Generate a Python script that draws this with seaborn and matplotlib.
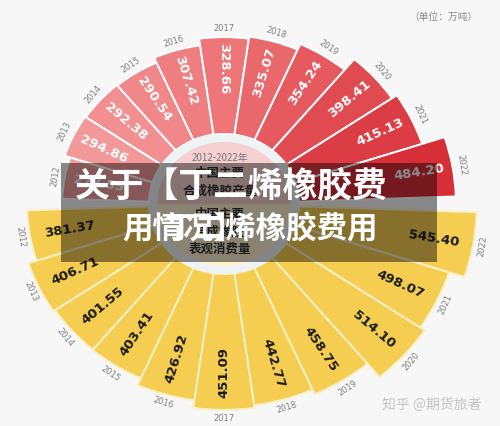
import numpy as np
import matplotlib
matplotlib.use("Agg")
import matplotlib.pyplot as plt
from matplotlib.patches import Rectangle
import seaborn as sns

# data (unit: 万吨)
years = ["2012", "2013", "2014", "2015", "2016", "2017", "2018", "2019", "2020", "2021", "2022"]
production = [278.55, 294.86, 292.38, 290.54, 307.42, 328.66, 335.07, 354.24, 398.41, 415.13, 484.20]
consumption = [381.37, 406.71, 401.55, 403.41, 426.92, 451.09, 442.77, 458.75, 514.10, 498.07, 545.40]

title_line1 = "关于【丁二烯橡胶费"
title_line2a = "用情况】"
title_line2b = "丁二烯橡胶费用"
unit_text = "（单位：万吨）"
center_top = ["2012-2022年", "中国主要", "合成橡胶产量"]
center_bottom = ["中国主要", "合成橡胶", "表观消费量"]
watermark = "知乎 @期货旅者"

sns.set_theme(style="white")
cjk = ["Noto Sans CJK SC", "DejaVu Sans"]
plt.rcParams["font.family"] = cjk

W, H = 500, 426
bg = "#f7f7f7"
fig = plt.figure(figsize=(W / 100, H / 100), dpi=100, facecolor=bg)

# polar axes, slightly squashed vertically like the source picture
cx, cy = 224, 204
r0, rmax = -196, 600
k = 0.341     # px per unit, horizontal
squash = 0.933
rpx = k * (rmax - r0)
ax = fig.add_axes([(cx - rpx) / W, (H - cy - rpx * squash) / H,
                   2 * rpx / W, 2 * rpx * squash / H], projection="polar")
ax.set_aspect("auto")
ax.set_ylim(r0, rmax)
ax.set_theta_zero_location("E")
ax.axis("off")

base = 24
n = len(years)
step = 16
red_deg = [170 - step * i for i in range(n)]
yel_deg = [190 + step * i for i in range(n)]
red_theta = np.deg2rad(red_deg)
yel_theta = np.deg2rad(yel_deg)
width = np.deg2rad(step)

reds = sns.blend_palette(["#f3a0a1", "#ee7679", "#d72f38"], n)
ax.bar(red_theta, np.array(production) - base, width=width, bottom=base,
       color=reds, edgecolor="white", linewidth=1.4, zorder=2)
ax.bar(yel_theta, np.array(consumption) - base, width=width, bottom=base,
       color="#f5cd50", edgecolor="#fbf0c8", linewidth=1.4, zorder=2)

# hub
ax.bar([0], [base - r0], width=2 * np.pi, bottom=r0, color="#eef3f3", linewidth=0, zorder=3)
hub_in = -1
ax.bar([np.pi / 2], [hub_in - r0], width=np.pi, bottom=r0, color="#f6d0d0", linewidth=0, zorder=3)
ax.bar([3 * np.pi / 2], [hub_in - r0], width=np.pi, bottom=r0, color="#fcf0cf", linewidth=0, zorder=3)


def screen_deg(deg):
    # angle on screen once the circle is squashed
    t = np.deg2rad(deg)
    return np.rad2deg(np.arctan2(squash * np.sin(t), np.cos(t)))


def radial_rot(deg):
    return ((screen_deg(deg) + 90) % 180) - 90


for th, d, v, y in zip(red_theta, red_deg, production, years):
    ax.text(th, v - 100, f"{v:.2f}", rotation=radial_rot(d), rotation_mode="anchor",
            ha="center", va="center", color="white", fontsize=9.5, fontweight="bold",
            family="DejaVu Sans", zorder=4)
    ax.text(th, v + 28, y, rotation=screen_deg(d) - 90, rotation_mode="anchor",
            ha="center", va="center", color="#808080", fontsize=6, family="DejaVu Sans")

for th, d, v, y in zip(yel_theta, yel_deg, consumption, years):
    ax.text(th, v - 118, f"{v:.2f}", rotation=radial_rot(d), rotation_mode="anchor",
            ha="center", va="center", color="#1a1a1a", fontsize=9.5, fontweight="bold",
            family="DejaVu Sans", zorder=4)
    ax.text(th, v + 28, y, rotation=(screen_deg(d) % 360) + 90 - 360, rotation_mode="anchor",
            ha="center", va="center", color="#808080", fontsize=6, family="DejaVu Sans")

# hub captions
tr = fig.transFigure
hub_lines = [(158, center_top[0], 7, "normal", "#777777"),
             (174, center_top[1], 9, "bold", "#333333"),
             (191, center_top[2], 9, "bold", "#333333"),
             (215, center_bottom[0], 9, "bold", "#333333"),
             (232, center_bottom[1], 9, "bold", "#333333"),
             (249, center_bottom[2], 9, "bold", "#333333")]
for ypx, txt, fs, fw, col in hub_lines:
    ax.text(220 / W, 1 - ypx / H, txt, transform=tr, ha="center", va="center",
            fontsize=fs, fontweight=fw, color=col, zorder=5)

# unit + watermark
fig.text(443 / W, 1 - 17 / H, unit_text, ha="center", va="center", fontsize=7, color="#8a8a8a")
fig.text(432 / W, 1 - 405 / H, watermark, ha="center", va="center", fontsize=10, color="#c4c4c4")

# dark title band
fig.patches.append(Rectangle((61 / W, 1 - 262 / H), (437 - 61) / W, (262 - 163) / H,
                             transform=tr, facecolor="black", alpha=0.45, linewidth=0, zorder=6))
fig.text(75 / W, 1 - 187 / H, title_line1, ha="left", va="center", fontsize=25,
         fontweight="bold", color="white", zorder=7)
fig.text(122 / W, 1 - 229 / H, title_line2a, ha="left", va="center", fontsize=22,
         fontweight="bold", color="white", zorder=7)
fig.text(378 / W, 1 - 229 / H, title_line2b, ha="right", va="center", fontsize=22,
         fontweight="bold", color="white", zorder=7)

fig.savefig("out.png", dpi=100, facecolor=bg)
